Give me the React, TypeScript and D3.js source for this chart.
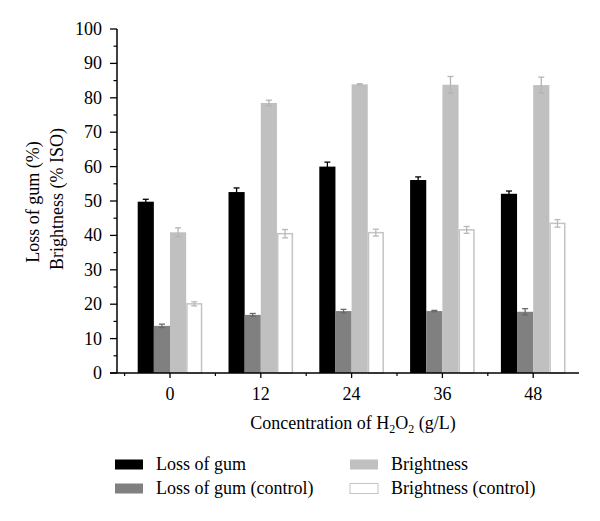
import React from "react";
import * as d3 from "d3";

const categories = ["0", "12", "24", "36", "48"];
const seriesNames = ["Loss of gum", "Loss of gum (control)", "Brightness", "Brightness (control)"];
const lossOfGum = [49.8, 52.6, 60.0, 56.1, 52.1];
const lossOfGumErr = [0.7, 1.2, 1.3, 0.9, 0.8];
const lossOfGumControl = [13.7, 16.9, 18.0, 18.0, 17.8];
const lossOfGumControlErr = [0.5, 0.4, 0.5, 0.2, 0.9];
const brightness = [40.9, 78.5, 83.9, 83.8, 83.7];
const brightnessErr = [1.3, 0.8, 0.2, 2.4, 2.3];
const brightnessControl = [20.1, 40.5, 40.8, 41.6, 43.5];
const brightnessControlErr = [0.6, 1.2, 1.0, 1.0, 1.1];
const yTicks = [0, 10, 20, 30, 40, 50, 60, 70, 80, 90, 100];

const seriesValues = [lossOfGum, lossOfGumControl, brightness, brightnessControl];
const seriesErrs = [lossOfGumErr, lossOfGumControlErr, brightnessErr, brightnessControlErr];
const fills = ["#000000", "#808080", "#c0c0c0", "#ffffff"];
const strokes = ["none", "none", "none", "#c4c4c4"];
const errColors = ["#000000", "#6a6a6a", "#b4b4b4", "#b8b8b8"];

const FONT = "'Liberation Serif', 'Times New Roman', serif";
const FS = 18;

export default function App() {
  const W = 600, H = 521;
  const axisX = 117;
  const axisY = 373;
  const y = d3.scaleLinear().domain([0, 100]).range([373, 29]);
  const x = d3.scaleBand().domain(categories).range([124.6, 578.6]).paddingInner(0).paddingOuter(0);
  const inner = d3.scaleBand().domain(seriesNames).range([-32.3, 32.3]).paddingInner(0);
  const minorY = d3.range(5, 100, 10);
  const minorX = [124.6, ...categories.map((c) => (x(c) as number) + x.bandwidth())].slice(0, 5);

  return (
    <svg width={W} height={H} style={{ display: "block", position: "absolute", left: 0, top: 0 }} fontFamily={FONT}>
      <rect width={W} height={H} fill="#fff" />
      {/* bars */}
      {categories.map((c, ci) => {
        const cx = (x(c) as number) + x.bandwidth() / 2;
        return (
          <g key={c}>
            {seriesNames.map((s, si) => {
              const v = seriesValues[si][ci];
              const bx = cx + (inner(s) as number);
              const bw = inner.bandwidth();
              const isWhite = si === 3;
              return (
                <rect
                  key={s}
                  x={isWhite ? bx + 0.75 : bx}
                  y={y(v)}
                  width={isWhite ? bw - 1.5 : bw}
                  height={axisY - y(v)}
                  fill={fills[si]}
                  stroke={strokes[si]}
                  strokeWidth={1.5}
                />
              );
            })}
            {seriesNames.map((s, si) => {
              const v = seriesValues[si][ci];
              const e = seriesErrs[si][ci];
              const mx = cx + (inner(s) as number) + inner.bandwidth() / 2;
              return (
                <g key={s + "e"} stroke={errColors[si]} strokeWidth={1.3}>
                  <line x1={mx} x2={mx} y1={y(v - e)} y2={y(v + e)} />
                  <line x1={mx - 3} x2={mx + 3} y1={y(v + e)} y2={y(v + e)} />
                  <line x1={mx - 3} x2={mx + 3} y1={y(v - e)} y2={y(v - e)} />
                </g>
              );
            })}
          </g>
        );
      })}
      {/* y axis */}
      <line x1={axisX} x2={axisX} y1={y(100)} y2={axisY} stroke="#000" strokeWidth={1.5} />
      {yTicks.map((t) => (
        <g key={t}>
          <line x1={axisX - 7} x2={axisX} y1={y(t)} y2={y(t)} stroke="#000" strokeWidth={1.3} />
          <text x={102} y={y(t)} textAnchor="end" dominantBaseline="central" fontSize={FS}>
            {t}
          </text>
        </g>
      ))}
      {minorY.map((t) => (
        <line key={t} x1={axisX - 3.5} x2={axisX} y1={y(t)} y2={y(t)} stroke="#000" strokeWidth={1.2} />
      ))}
      {/* x axis */}
      <line x1={110} x2={579} y1={axisY} y2={axisY} stroke="#000" strokeWidth={1.5} />
      {categories.map((c) => {
        const cx = (x(c) as number) + x.bandwidth() / 2;
        return (
          <g key={c}>
            <line x1={cx} x2={cx} y1={axisY} y2={axisY + 5} stroke="#000" strokeWidth={1.3} />
            <text x={cx} y={400} textAnchor="middle" fontSize={FS}>
              {c}
            </text>
          </g>
        );
      })}
      {minorX.map((mx, i) => (
        <line key={i} x1={mx} x2={mx} y1={axisY} y2={axisY + 3} stroke="#000" strokeWidth={1.2} />
      ))}
      {/* axis titles */}
      <text x={353} y={429} textAnchor="middle" fontSize={FS}>
        Concentration of H<tspan fontSize={12} dy={4}>2</tspan>
        <tspan dy={-4}>O</tspan>
        <tspan fontSize={12} dy={4}>2</tspan>
        <tspan dy={-4}> (g/L)</tspan>
      </text>
      <g transform="translate(39,202) rotate(-90)">
        <text x={0} y={0} textAnchor="middle" fontSize={FS}>Loss of gum (%)</text>
      </g>
      <g transform="translate(63,199) rotate(-90)">
        <text x={0} y={0} textAnchor="middle" fontSize={FS}>Brightness (% ISO)</text>
      </g>
      {/* legend */}
      {seriesNames.map((s, si) => {
        const col = si < 2 ? 0 : 1;
        const row = si % 2;
        const sx = col === 0 ? 115 : 350;
        const tx = col === 0 ? 156 : 391;
        const sy = row === 0 ? 459.5 : 483.5;
        return (
          <g key={s}>
            <rect
              x={sx}
              y={sy}
              width={28}
              height={10}
              fill={fills[si]}
              stroke={si === 3 ? "#c4c4c4" : "none"}
              strokeWidth={1}
            />
            <text x={tx} y={sy + 10.5} fontSize={FS}>
              {s}
            </text>
          </g>
        );
      })}
    </svg>
  );
}
